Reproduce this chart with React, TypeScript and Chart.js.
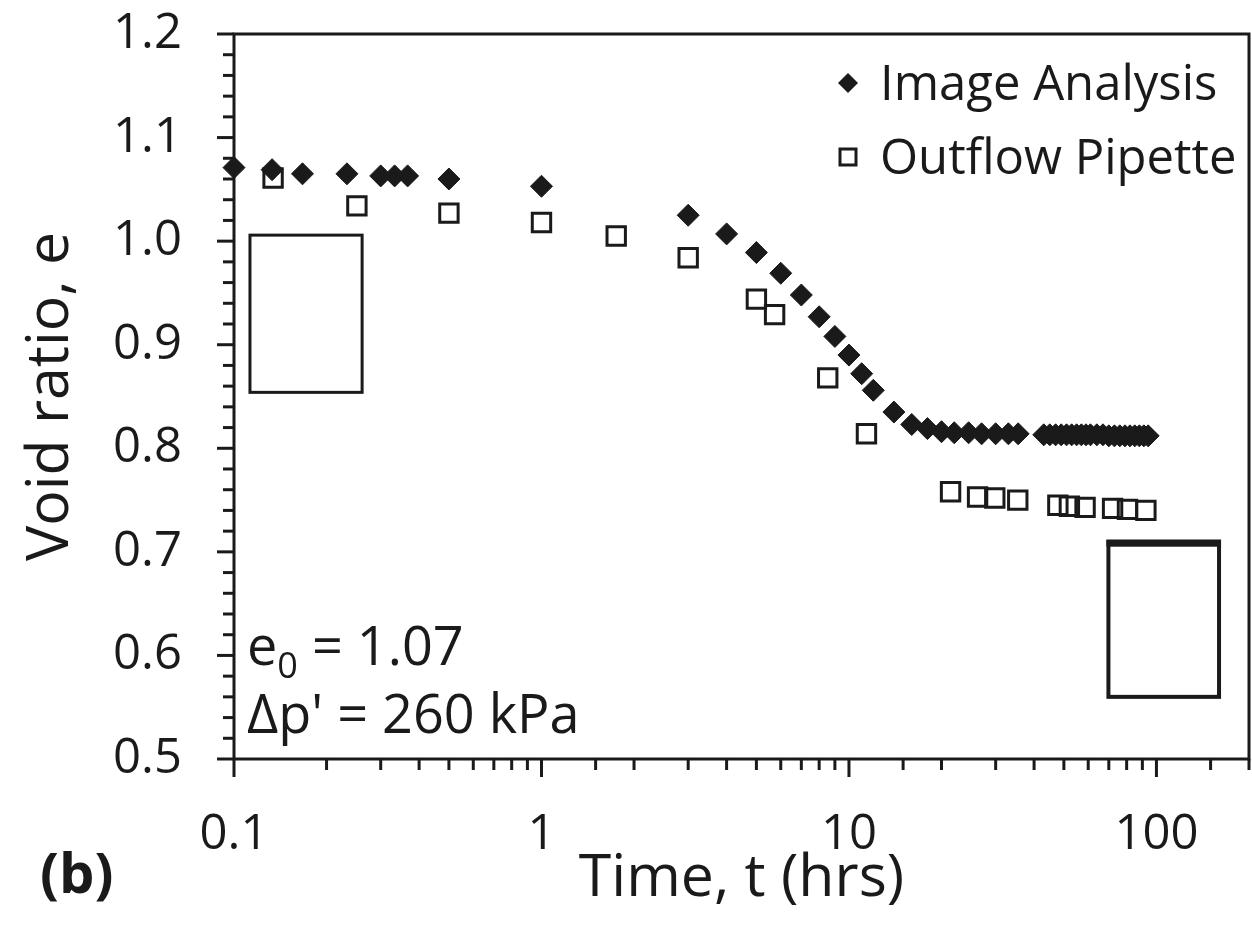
import React, { useEffect, useRef } from "react";
import { Chart, registerables } from "chart.js";

Chart.register(...registerables);

// ---------- data ----------
const seriesLabels = ["Image Analysis", "Outflow Pipette"];

const imageTimes = [
  0.1, 0.133, 0.167, 0.233, 0.3, 0.333, 0.367, 0.5, 1,
  3, 4, 5, 6, 7, 8, 9, 10, 11, 12, 14, 16, 18,
  20, 22, 24.5, 27, 30, 33, 35.5,
  43, 45, 47, 49, 51, 53, 55, 57, 59, 61, 64, 67, 70, 73, 76, 79, 82, 85, 88, 91, 94,
];
const imageVoid = [
  1.071, 1.069, 1.065, 1.065, 1.063, 1.063, 1.063, 1.06, 1.053,
  1.025, 1.007, 0.989, 0.969, 0.948, 0.927, 0.908, 0.89, 0.872, 0.856, 0.835, 0.823, 0.819,
  0.816, 0.815, 0.815, 0.814, 0.814, 0.814, 0.814,
  0.813, 0.813, 0.813, 0.813, 0.813, 0.813, 0.813, 0.813, 0.813, 0.813, 0.813, 0.813, 0.812, 0.812, 0.812, 0.812, 0.812, 0.812, 0.812, 0.812, 0.812,
];

const pipetteTimes = [
  0.134, 0.251, 0.5, 1, 1.75, 3, 5, 5.73, 8.53, 11.4,
  21.4, 26.2, 29.8, 35.4, 47.8, 52.1, 58.6, 72, 80.5, 92.4,
];
const pipetteVoid = [
  1.061, 1.034, 1.027, 1.018, 1.005, 0.984, 0.944, 0.929, 0.868, 0.814,
  0.758, 0.753, 0.752, 0.75, 0.745, 0.744, 0.743, 0.742, 0.741, 0.74,
];

// axis ranges / ticks
const xMin = 0.1;
const xMax = 200;
const xLabelledTicks = [0.1, 1, 10, 100];
const yMin = 0.5;
const yMax = 1.2;
const yMinorStep = 0.02;
const yLabelStep = 0.1;

// specimen outlines drawn in data units (time, void ratio)
const specimenTimes = [
  [0.1127, 0.261],
  [69.8, 159.8],
];
const specimenVoids = [
  [0.854, 1.0058],
  [0.56, 0.7098],
];

const xTitle = "Time, t (hrs)";
const yTitle = "Void ratio, e";
const noteE0 = ["e", "0", " = 1.07"];
const notePressure = "\u0394p' = 260 kPa";
const panelLabel = "(b)";

// ---------- styling ----------
const FONT = '"Open Sans", "DejaVu Sans", sans-serif';
const FS = 49;
const TITLE_FS = 59;
const NOTE_FS = 54;
const INK = "#1a1a1a";

const isLabelled = (v: number) =>
  xLabelledTicks.some((t) => Math.abs(Math.log10(v) - Math.log10(t)) < 1e-6);

const decorPlugin = {
  id: "decor",
  beforeDatasetsDraw(chart: any) {
    const { ctx, chartArea, scales } = chart;
    const xs = scales.x;
    const ys = scales.y;
    ctx.save();
    ctx.strokeStyle = INK;
    ctx.fillStyle = INK;

    // specimen outlines
    specimenTimes.forEach((tt, i) => {
      const l = xs.getPixelForValue(tt[0]);
      const r = xs.getPixelForValue(tt[1]);
      const t = ys.getPixelForValue(specimenVoids[i][1]);
      const b = ys.getPixelForValue(specimenVoids[i][0]);
      ctx.lineWidth = i === 0 ? 3 : 4;
      ctx.strokeRect(l, t, r - l, b - t);
      if (i === 1) ctx.fillRect(l - 2, t - 2, r - l + 4, 7);
    });

    // plot frame
    ctx.lineWidth = 3;
    ctx.strokeRect(
      chartArea.left,
      chartArea.top,
      chartArea.right - chartArea.left,
      chartArea.bottom - chartArea.top
    );

    // y ticks
    ys.ticks.forEach((t: any) => {
      const py = ys.getPixelForValue(t.value);
      const len = t.label !== "" ? 17 : 11;
      ctx.beginPath();
      ctx.moveTo(chartArea.left - len, py);
      ctx.lineTo(chartArea.left, py);
      ctx.stroke();
    });
    // x ticks
    xs.ticks.forEach((t: any) => {
      const px = xs.getPixelForValue(t.value);
      const len = isLabelled(t.value) ? 18 : 11;
      ctx.beginPath();
      ctx.moveTo(px, chartArea.bottom);
      ctx.lineTo(px, chartArea.bottom + len);
      ctx.stroke();
    });
    ctx.restore();
  },
  afterDraw(chart: any) {
    const { ctx, chartArea } = chart;
    ctx.save();
    ctx.fillStyle = INK;
    ctx.strokeStyle = INK;
    ctx.textBaseline = "alphabetic";
    ctx.textAlign = "left";

    // legend
    const lx = 848;
    const rows = [83, 157];
    chart.data.datasets.forEach((ds: any, i: number) => {
      const cy = rows[i];
      if (i === 0) {
        ctx.beginPath();
        ctx.moveTo(lx - 10, cy);
        ctx.lineTo(lx, cy - 10);
        ctx.lineTo(lx + 10, cy);
        ctx.lineTo(lx, cy + 10);
        ctx.closePath();
        ctx.fill();
      } else {
        ctx.lineWidth = 3;
        ctx.strokeRect(lx - 8, cy - 8, 16, 16);
      }
      ctx.font = `${FS}px ${FONT}`;
      ctx.fillText(ds.label, 880, cy + 17);
    });

    // notes
    const nx = chartArea.left + 13;
    ctx.font = `${NOTE_FS}px ${FONT}`;
    ctx.fillText(noteE0[0], nx, 665);
    let w = ctx.measureText(noteE0[0]).width;
    ctx.font = `36px ${FONT}`;
    ctx.fillText(noteE0[1], nx + w, 678);
    w += ctx.measureText(noteE0[1]).width;
    ctx.font = `${NOTE_FS}px ${FONT}`;
    ctx.fillText(noteE0[2], nx + w, 665);
    ctx.fillText(notePressure, nx, 733);

    // panel label
    ctx.font = `bold 56px ${FONT}`;
    ctx.fillText(panelLabel, 40, 893);
    ctx.restore();
  },
};

export default function App() {
  const canvasRef = useRef<HTMLCanvasElement | null>(null);

  useEffect(() => {
    document.body.style.margin = "0";
    let chart: Chart | null = null;
    let cancelled = false;

    const build = () => {
      if (cancelled || !canvasRef.current) return;
      chart = new Chart(canvasRef.current, {
        type: "scatter",
        data: {
          datasets: [
            {
              label: seriesLabels[0],
              data: imageTimes.map((t, i) => ({ x: t, y: imageVoid[i] })),
              pointStyle: "rectRot",
              pointRadius: 11,
              pointBackgroundColor: INK,
              pointBorderColor: INK,
              pointBorderWidth: 1,
              showLine: false,
              clip: false,
            },
            {
              label: seriesLabels[1],
              data: pipetteTimes.map((t, i) => ({ x: t, y: pipetteVoid[i] })),
              pointStyle: "rect",
              pointRadius: 13,
              pointBackgroundColor: "rgba(255,255,255,0)",
              pointBorderColor: INK,
              pointBorderWidth: 3,
              showLine: false,
              clip: false,
            },
          ],
        },
        options: {
          animation: false,
          responsive: false,
          devicePixelRatio: 1,
          layout: { autoPadding: false, padding: { top: 34, right: 3, left: 0, bottom: 0 } },
          plugins: {
            legend: { display: false },
            tooltip: { enabled: false },
            title: { display: false },
          },
          scales: {
            x: {
              type: "logarithmic",
              min: xMin,
              max: xMax,
              border: { display: false },
              grid: {
                display: true,
                drawOnChartArea: false,
                drawTicks: true,
                tickLength: 46,
                color: "rgba(0,0,0,0)",
                tickColor: "rgba(0,0,0,0)",
              },
              ticks: {
                autoSkip: false,
                maxRotation: 0,
                padding: 1,
                color: INK,
                font: { family: FONT, size: FS },
                callback: (v: any) => {
                  const n = Number(v);
                  return isLabelled(n) ? String(Number(n.toPrecision(3))) : "";
                },
              },
              title: {
                display: true,
                text: xTitle,
                color: INK,
                font: { family: FONT, size: TITLE_FS },
                padding: { top: 0, bottom: 21 },
              },
              afterFit: (s: any) => {
                s.height = 177;
              },
            },
            y: {
              type: "linear",
              min: yMin,
              max: yMax,
              border: { display: false },
              grid: {
                display: true,
                drawOnChartArea: false,
                drawTicks: true,
                tickLength: 51,
                color: "rgba(0,0,0,0)",
                tickColor: "rgba(0,0,0,0)",
              },
              ticks: {
                stepSize: yMinorStep,
                maxTicksLimit: 200,
                autoSkip: false,
                padding: 1,
                color: INK,
                font: { family: FONT, size: FS },
                callback: (v: any) => {
                  const n = Number(v);
                  const k = n / yLabelStep;
                  return Math.abs(k - Math.round(k)) < 1e-6 ? n.toFixed(1) : "";
                },
              },
              title: {
                display: true,
                text: yTitle,
                color: INK,
                font: { family: FONT, size: TITLE_FS },
                padding: { top: 16, bottom: 0 },
              },
              afterFit: (s: any) => {
                s.width = 234;
              },
            },
          },
        },
        plugins: [decorPlugin],
      });
    };

    const fontsReady = (document as any).fonts
      ? Promise.all([
          (document as any).fonts.load(`${FS}px "Open Sans"`),
          (document as any).fonts.load(`bold ${FS}px "Open Sans"`),
        ]).catch(() => null)
      : Promise.resolve(null);
    fontsReady.then(build);

    return () => {
      cancelled = true;
      if (chart) chart.destroy();
    };
  }, []);

  return (
    <div style={{ width: 1252, height: 936, background: "#fff" }}>
      <canvas ref={canvasRef} width={1252} height={936} />
    </div>
  );
}
